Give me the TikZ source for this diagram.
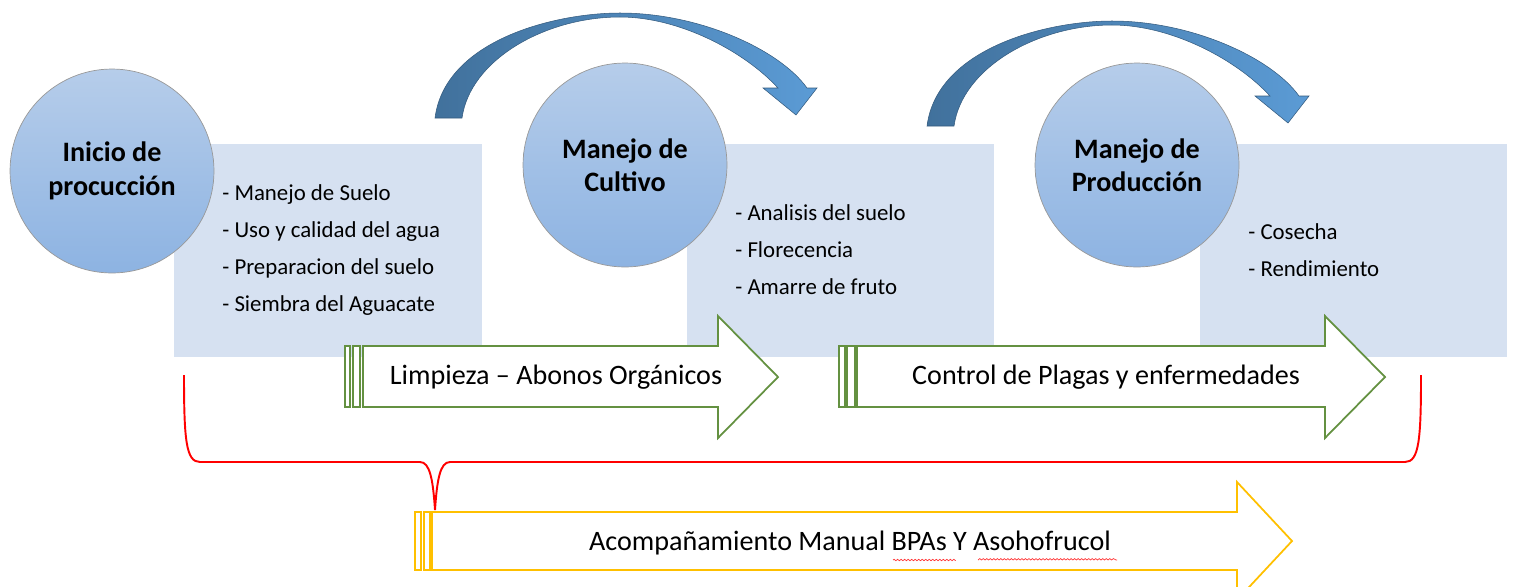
\documentclass[tikz,border=0pt]{standalone}
\usepackage{fontspec}
\setmainfont{Carlito}
\usetikzlibrary{positioning,decorations.pathmorphing}
\definecolor{paneblue}{RGB}{214,225,241}
\definecolor{ballTop}{RGB}{182,205,234}
\definecolor{ballBot}{RGB}{141,179,226}
\definecolor{bendDark}{RGB}{65,113,156}
\definecolor{bendLight}{RGB}{91,155,213}
\definecolor{flowGreen}{RGB}{100,145,65}
\definecolor{flowYellow}{RGB}{255,192,0}
\newcommand{\bendarrow}{%
  \path[draw=bendDark!80!black, line width=0.3pt, left color=bendDark, right color=bendLight]
    (435,118) .. controls (445,40) and (555,13) .. (620,13)
    .. controls (700,13) and (780,50) .. (807,88) -- (817,88) -- (796,115) -- (763,88) -- (778,88)
    .. controls (745,52) and (680,17) .. (620,17)
    .. controls (545,17) and (470,60) .. (462,118) -- cycle;}

\begin{document}
\begin{tikzpicture}[x=0.02cm, y=-0.02cm,
  ball/.style={circle, draw=gray!80, top color=ballTop, bottom color=ballBot, minimum size=4.08cm,
    inner sep=0pt, align=center, font=\fontsize{16}{19}\selectfont\bfseries},
  pane/.style={fill=paneblue, minimum width=6.16cm, minimum height=4.26cm, inner sep=0pt},
  items/.style={anchor=west, align=left, inner sep=0pt, font=\fontsize{13}{21}\selectfont},
  banner/.style={inner sep=0pt, font=\fontsize{16}{19}\selectfont},
  greenflow/.style={draw=flowGreen, line width=1pt, fill=white},
  yellowflow/.style={draw=flowYellow, line width=1pt, fill=white}]
  \useasboundingbox (0,0) rectangle (1513,586);

  \node at (328,250.5) [pane] (p1) {};
  \node at (840.5,250.5) [pane] (p2) {};
  \node at (1353.5,250.5) [pane] (p3) {};

  \node at (222,250) [items] (l1) {- Manejo de Suelo\\- Uso y calidad del agua\\- Preparacion del suelo\\- Siembra del Aguacate};
  \node at (735,250) [items] (l2) {- Analisis del suelo\\- Florecencia\\- Amarre de fruto};
  \node at (1248,250) [items] (l3) {- Cosecha\\- Rendimiento};

  \node at (112,171) [ball] (b1) {Inicio de\\procucción};
  \node at (625,165) [ball] (b2) {Manejo de\\Cultivo};
  \node at (1137,165) [ball] (b3) {Manejo de\\Producción};

  \bendarrow
  \begin{scope}[shift={(492,8)}]
    \bendarrow
  \end{scope}

  % green arrows
  \draw[greenflow] (345,346) rectangle (350,407);
  \draw[greenflow] (353,346) rectangle (360,407);
  \draw[greenflow] (363,346) -- (718,346) -- (718,316) -- (778,377) -- (718,438) -- (718,407) -- (363,407) -- cycle;
  \node at (556,377) [banner] (g1) {Limpieza – Abonos Orgánicos};

  \draw[greenflow] (839,346) rectangle (845,407);
  \draw[greenflow] (847,346) rectangle (855,407);
  \draw[greenflow] (857,346) -- (1325,346) -- (1325,316) -- (1385,377) -- (1325,438) -- (1325,407) -- (857,407) -- cycle;
  \node at (1106,377) [banner] (g2) {Control de Plagas y enfermedades};

  % brace
  \draw[red, line width=1.1pt] (184,375) .. controls (184,440) and (186,462) .. (200,462) -- (420,462)
    .. controls (430,462) and (433,480) .. (435,510) .. controls (437,480) and (440,462) .. (450,462)
    -- (1405,462) .. controls (1419,462) and (1421,440) .. (1421,375);

  % yellow arrow
  \draw[yellowflow] (415,512) rectangle (421,570);
  \draw[yellowflow] (424,512) rectangle (430,570);
  \draw[yellowflow] (432,512) -- (1237,512) -- (1237,482) -- (1292,541) -- (1237,600) -- (1237,570) -- (432,570) -- cycle;
  \node at (850,543) [banner] (y1) {Acompañamiento Manual BPAs Y Asohofrucol};
  \draw[red!80, line width=0.4pt, decorate, decoration={snake, amplitude=0.4pt, segment length=2pt}]
    (893,560) -- (954,560) (978,560) -- (1117,560);
\end{tikzpicture}
\end{document}
